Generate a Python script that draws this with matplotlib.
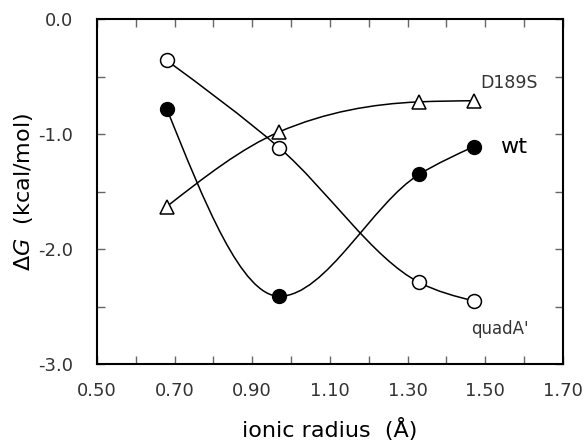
import matplotlib
matplotlib.use("Agg")
from matplotlib import pyplot as plt
from matplotlib.path import Path
from matplotlib.patches import PathPatch
import numpy as np

plt.rcParams['font.family'] = ['DejaVu Sans']
plt.rcParams['axes.unicode_minus'] = False

# ionic radii (Li+, Na+, K+, Rb+)
radius = [0.68, 0.97, 1.33, 1.47]
dg_wt = [-0.78, -2.41, -1.35, -1.11]
dg_quad = [-0.36, -1.12, -2.29, -2.45]
dg_d189s = [-1.63, -0.98, -0.72, -0.71]


def smooth_path(xs, ys):
    # monotone cubic through the points, drawn as Bezier segments
    x = np.asarray(xs, float)
    y = np.asarray(ys, float)
    h = np.diff(x)
    s = np.diff(y) / h
    n = len(x)
    m = np.zeros(n)
    for i in range(1, n - 1):
        if s[i - 1] * s[i] <= 0:
            m[i] = 0.0
        else:
            p = (s[i - 1] * h[i] + s[i] * h[i - 1]) / (h[i - 1] + h[i])
            m[i] = np.sign(s[i]) * 2 * min(abs(s[i - 1]), abs(s[i]), 0.5 * abs(p))
    m[0] = (3 * s[0] - m[1]) / 2
    m[-1] = (3 * s[-1] - m[-2]) / 2
    verts = [(x[0], y[0])]
    codes = [Path.MOVETO]
    for i in range(n - 1):
        d = h[i] / 3
        verts += [(x[i] + d, y[i] + m[i] * d),
                  (x[i + 1] - d, y[i + 1] - m[i + 1] * d),
                  (x[i + 1], y[i + 1])]
        codes += [Path.CURVE4] * 3
    return Path(verts, codes)


fig = plt.figure(figsize=(5.87, 4.43), dpi=100)
ax = fig.add_axes([0.165, 0.178, 0.794, 0.779])

for ys in (dg_wt, dg_quad, dg_d189s):
    ax.add_patch(PathPatch(smooth_path(radius, ys), fill=False,
                           edgecolor='black', lw=1.1, zorder=2))

ax.plot(radius, dg_wt, 'o', ms=10, mfc='black', mec='black', zorder=3)
ax.plot(radius, dg_quad, 'o', ms=10, mfc='white', mec='black', mew=1.1, zorder=3)
ax.plot(radius, dg_d189s, '^', ms=10, mfc='white', mec='black', mew=1.1, zorder=3)

ax.text(1.486, -0.60, 'D189S', fontsize=12.5, color='#333333', ha='left', va='baseline')
ax.text(1.538, -1.165, 'wt', fontsize=16, color='black', ha='left', va='baseline')
ax.text(1.463, -2.74, "quadA'", fontsize=12, color='#333333', ha='left', va='baseline')

ax.set_xlim(0.5, 1.7)
ax.set_ylim(-3.0, 0.0)
ax.set_xticks(np.arange(0.5, 1.71, 0.2))
ax.set_xticks(np.arange(0.5, 1.71, 0.1), minor=True)
ax.set_yticks(np.arange(-3.0, 0.01, 1.0))
ax.set_yticks(np.arange(-3.0, 0.01, 0.5), minor=True)
ax.set_xticklabels(['%.2f' % v for v in np.arange(0.5, 1.71, 0.2)])
ax.set_yticklabels(['%.1f' % v for v in np.arange(-3.0, 0.01, 1.0)])
ax.tick_params(which='both', direction='in', top=True, right=True,
               labelsize=13, labelcolor='#333333', width=1, color='#666666',
               length=6)
ax.tick_params(axis='x', which='both', pad=13)
ax.tick_params(axis='y', which='both', pad=17)
for s in ax.spines.values():
    s.set_linewidth(1.5)

ax.set_xlabel('ionic radius  (Å)', fontsize=16, labelpad=13)
ax.set_ylabel(r'$\Delta$$\it{G}$  (kcal/mol)', fontsize=16, labelpad=2)

fig.savefig('out.png', dpi=100)
